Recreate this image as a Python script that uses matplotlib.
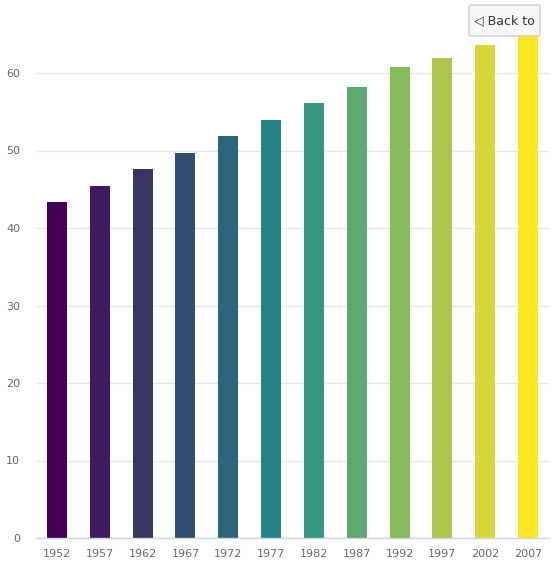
import matplotlib.pyplot as plt
from matplotlib.patches import FancyBboxPatch

# data
years = ['1952', '1957', '1962', '1967', '1972', '1977',
         '1982', '1987', '1992', '1997', '2002', '2007']
values = [43.4, 45.4, 47.6, 49.7, 51.9, 54.0,
          56.1, 58.2, 60.8, 61.9, 63.6, 65.3]
colors = ['#450051', '#3f1b5f', '#363564', '#2f4e70', '#2a6778', '#238385',
          '#339781', '#5ea76e', '#87b95d', '#aec54c', '#d5d836', '#fde723']
yticks = [0, 10, 20, 30, 40, 50, 60]

W, H = 551, 567
fig = plt.figure(figsize=(W / 100, H / 100), dpi=100)
ax = fig.add_axes([35.6 / W, 29 / H, 513.8 / W, 538 / H])

x = range(len(years))
ax.bar(x, values, width=0.467, color=colors, zorder=2)

ax.set_xlim(-0.5, len(years) - 0.5)
ax.set_ylim(0, 538 / 7.75)
ax.set_yticks(yticks)
ax.set_xticks(list(x))
ax.set_xticklabels(years)

ax.grid(axis='y', color='#e6e6e6', linewidth=1, zorder=0)
ax.set_axisbelow(True)
for side in ['top', 'right', 'left']:
    ax.spines[side].set_visible(False)
ax.spines['bottom'].set_color('#ccd6eb')
ax.spines['bottom'].set_linewidth(1)
ax.tick_params(axis='both', length=0, labelsize=8, labelcolor='#666666')
ax.tick_params(axis='y', pad=11)
ax.tick_params(axis='x', pad=8)

# drilldown "Back to" button
btn = FancyBboxPatch((469 / W, 1 - 36 / H), 71 / W, 31 / H,
                     boxstyle='round,pad=0,rounding_size=0.004',
                     transform=fig.transFigure, facecolor='#f7f7f7',
                     edgecolor='#cccccc', linewidth=1, zorder=10)
fig.patches.append(btn)
fig.text(504.5 / W, 1 - 20.5 / H, '\u25c1 Back to', ha='center', va='center',
         fontsize=9, color='#333333', zorder=11)

fig.savefig('out.png', dpi=100)
